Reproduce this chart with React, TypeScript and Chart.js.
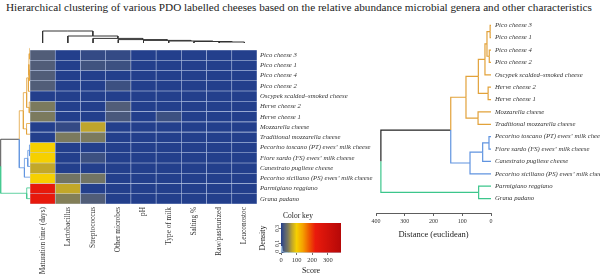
import React, { useEffect, useRef } from "react";
import { Chart, registerables } from "chart.js";

Chart.register(...registerables);

const SERIF = "'Liberation Serif', 'DejaVu Serif', serif";
const TITLE =
  "Hierarchical clustering of various PDO labelled cheeses based on the relative abundance microbial genera and other characteristics";

const rowLabels = [
  "Pico cheese 3",
  "Pico cheese 1",
  "Pico cheese 4",
  "Pico cheese 2",
  "Oscypek scalded–smoked cheese",
  "Herve cheese 2",
  "Herve cheese 1",
  "Mozzarella cheese",
  "Traditional mozzarella cheese",
  "Pecorino toscano (PT) ewes’ milk cheese",
  "Fiore sardo (FS) ewes’ milk cheese",
  "Canestrato pugliese cheese",
  "Pecorino siciliano (PS) ewes’ milk cheese",
  "Parmigiano reggiano",
  "Grana padano",
];

const colLabels = [
  "Maturation time (days)",
  "Lactobacillus",
  "Streptococcus",
  "Other microbes",
  "pH",
  "Type of milk",
  "Salting %",
  "Raw/pasteurized",
  "Leuconostoc",
];

// scores per column, one value per row (top to bottom)
const maturation = [22, 22, 22, 22, 0, 45, 45, 0, 0, 100, 100, 72, 100, 230, 230];
const lactobacillus = [0, 0, 0, 0, 0, 0, 0, 8, 45, 0, 0, 0, 40, 72, 48];
const streptococcus = [8, 14, 0, 0, 0, 0, 0, 70, 45, 0, 12, 0, 40, 0, 22];
const otherMicrobes = [8, 12, 0, 12, 0, 22, 18, 0, 0, 0, 0, 0, 0, 0, 0];
const pH = [0, 0, 0, 0, 0, 0, 0, 0, 0, 0, 0, 0, 0, 0, 0];
const typeOfMilk = [0, 0, 0, 0, 0, 0, 12, 0, 0, 0, 0, 0, 0, 0, 0];
const salting = [0, 0, 0, 0, 0, 0, 0, 0, 0, 0, 0, 0, 0, 0, 0];
const rawPasteurized = [0, 0, 0, 0, 0, 0, 0, 0, 0, 0, 0, 0, 0, 0, 0];
const leuconostoc = [0, 0, 0, 0, 0, 0, 0, 0, 0, 0, 0, 0, 0, 0, 0];
const columnScores = [
  maturation,
  lactobacillus,
  streptococcus,
  otherMicrobes,
  pH,
  typeOfMilk,
  salting,
  rawPasteurized,
  leuconostoc,
];

// colour key
const keyValues = [0, 20, 45, 70, 100, 140, 180, 220, 385];
const keyColors = ["#233f8c", "#4d5b7a", "#7b7a5e", "#bfa52c", "#f6d000", "#f5a000", "#ee5a00", "#ea1a0c", "#b50808"];
const keyTicks = [0, 100, 200, 300];
const densityTicks = [0, 0.1, 0.25];
const densityX = [0, 4, 8, 14, 25, 50, 100, 200, 300, 385];
const densityY = [0.005, 0.07, 0.02, 0.01, 0.006, 0.004, 0.003, 0.002, 0.001, 0.001];

// row dendrogram: [left, right, height]; negative = leaf (1-based position), positive = earlier merge
const rowMerges = [
  [-1, -2, 3],
  [-3, -4, 6],
  [1, 2, 14],
  [3, -5, 21],
  [-6, -7, 10],
  [4, 5, 44],
  [-8, -9, 45],
  [6, 7, 87],
  [-10, -11, 7],
  [9, -12, 29],
  [10, -13, 73],
  [8, 11, 140],
  [-14, -15, 43],
  [12, 13, 383],
];
const rowClusterNodes = [8, 11, 13];
const rowClusterColors = ["#e2a23a", "#6094e0", "#3cc68c"];
const distanceTicks = [0, 100, 200, 300, 400];

// column dendrogram
const colMerges = [
  [-8, -9, 1],
  [-7, 1, 1.5],
  [-6, 2, 2],
  [-5, 3, 2.6],
  [-4, 4, 3.4],
  [-3, 5, 4.6],
  [-2, 6, 7],
  [-1, 7, 12],
];

function hexToRgb(h: string) {
  return [parseInt(h.slice(1, 3), 16), parseInt(h.slice(3, 5), 16), parseInt(h.slice(5, 7), 16)];
}
function colorFor(v: number) {
  let i = 0;
  while (i < keyValues.length - 2 && v > keyValues[i + 1]) i++;
  const t = Math.max(0, Math.min(1, (v - keyValues[i]) / (keyValues[i + 1] - keyValues[i])));
  const a = hexToRgb(keyColors[i]);
  const b = hexToRgb(keyColors[i + 1]);
  const c = a.map((x, k) => Math.round(x + (b[k] - x) * t));
  return `rgb(${c[0]},${c[1]},${c[2]})`;
}

type Seg = { pts: { p: number; h: number }[]; color: string };
function dendrogram(merges: number[][], clusterNodes: number[], clusterColors: string[], base: string): Seg[] {
  const pos: Record<number, number> = {};
  const hgt: Record<number, number> = {};
  const P = (r: number) => (r < 0 ? -r - 0.5 : pos[r]);
  const H = (r: number) => (r < 0 ? 0 : hgt[r]);
  merges.forEach(([a, b, h], k) => {
    pos[k + 1] = (P(a) + P(b)) / 2;
    hgt[k + 1] = h;
  });
  const colorOf: Record<number, string> = {};
  const paint = (r: number, c: string) => {
    const idx = r > 0 ? clusterNodes.indexOf(r) : -1;
    const col = idx >= 0 ? clusterColors[idx] : c;
    colorOf[r] = col;
    if (r > 0) {
      paint(merges[r - 1][0], col);
      paint(merges[r - 1][1], col);
    }
  };
  paint(merges.length, base);
  const segs: Seg[] = [];
  merges.forEach(([a, b], k) => {
    const n = k + 1;
    [a, b].forEach((c) => {
      segs.push({
        pts: [
          { p: pos[n], h: hgt[n] },
          { p: P(c), h: hgt[n] },
          { p: P(c), h: H(c) },
        ],
        color: colorOf[c],
      });
    });
  });
  return segs;
}

const baseOpts: any = {
  responsive: false,
  animation: false,
  events: [],
  layout: { autoPadding: false, padding: 0 },
  plugins: { legend: { display: false }, tooltip: { enabled: false }, title: { display: false } },
};

function lineDatasets(segs: Seg[], horizontal: boolean, width: number) {
  return segs.map((s) => ({
    data: s.pts.map((q) => (horizontal ? { x: q.h, y: q.p } : { x: q.p, y: q.h })),
    showLine: true,
    borderColor: s.color,
    borderWidth: width,
    pointRadius: 0,
    fill: false,
    tension: 0,
    clip: false,
  }));
}

export default function App() {
  const heatRef = useRef<HTMLCanvasElement>(null);
  const leftRef = useRef<HTMLCanvasElement>(null);
  const topRef = useRef<HTMLCanvasElement>(null);
  const rightRef = useRef<HTMLCanvasElement>(null);
  const keyRef = useRef<HTMLCanvasElement>(null);
  const titleRef = useRef<HTMLDivElement>(null);

  useEffect(() => {
    const charts: Chart[] = [];
    if (titleRef.current) {
      const cv = document.createElement("canvas").getContext("2d")!;
      cv.font = `10px ${SERIF}`;
      const w = cv.measureText(TITLE).width;
      titleRef.current.style.fontSize = `${(10 * 586) / w}px`;
    }

    charts.push(
      new Chart(heatRef.current!, {
        type: "bar",
        data: {
          labels: colLabels,
          datasets: rowLabels.map((label, r) => ({
            label,
            data: colLabels.map(() => 1),
            backgroundColor: columnScores.map((col) => colorFor(col[r])),
            borderColor: "rgba(120,150,210,0.35)",
            borderWidth: 0.6,
            borderSkipped: false,
            barPercentage: 1,
            categoryPercentage: 1,
          })),
        },
        options: {
          ...baseOpts,
          scales: {
            x: {
              stacked: true,
              grid: { display: false, drawTicks: false },
              border: { display: false },
              ticks: {
                minRotation: 90,
                maxRotation: 90,
                autoSkip: false,
                padding: 3,
                color: "#333",
                font: { family: SERIF, size: 7.3 },
              },
              afterFit: (s: any) => {
                s.height = 72;
              },
            },
            y: {
              type: "linear",
              stacked: true,
              min: 0,
              max: 15,
              reverse: true,
              position: "right",
              grid: { display: false, drawTicks: false },
              border: { display: false },
              afterBuildTicks: (ax: any) => {
                ax.ticks = rowLabels.map((_, i) => ({ value: i + 0.5 }));
              },
              ticks: {
                autoSkip: false,
                padding: 3,
                color: "#333",
                font: { family: SERIF, size: 6.7, style: "italic" },
                callback: (_v: any, i: number) => rowLabels[i],
              },
              afterFit: (s: any) => {
                s.width = 123;
              },
            },
          },
        } as any,
      })
    );

    const rowSegs = dendrogram(rowMerges, rowClusterNodes, rowClusterColors, "#222");

    charts.push(
      new Chart(leftRef.current!, {
        type: "scatter",
        data: { datasets: lineDatasets(rowSegs, true, 0.8) as any },
        options: {
          ...baseOpts,
          scales: {
            x: { display: false, min: 0, max: 392, reverse: true },
            y: { display: false, min: 0, max: 15, reverse: true },
          },
        } as any,
      })
    );

    const colSegs = dendrogram(colMerges, [], [], "#333");
    charts.push(
      new Chart(topRef.current!, {
        type: "scatter",
        data: { datasets: lineDatasets(colSegs, false, 1) as any },
        options: {
          ...baseOpts,
          scales: {
            x: { display: false, min: 0, max: 9 },
            y: { display: false, min: 0, max: 14 },
          },
        } as any,
      })
    );

    charts.push(
      new Chart(rightRef.current!, {
        type: "scatter",
        data: { datasets: lineDatasets(rowSegs, true, 1.2) as any },
        options: {
          ...baseOpts,
          layout: { autoPadding: false, padding: { left: 16, top: 0, right: 0, bottom: 0 } },
          scales: {
            x: {
              min: 0,
              max: 400,
              reverse: true,
              afterBuildTicks: (ax: any) => {
                ax.ticks = distanceTicks.map((v) => ({ value: v }));
              },
              grid: { drawOnChartArea: false, drawTicks: true, tickLength: 3, color: "#333", lineWidth: 0.8 },
              border: { display: true, color: "#333", width: 0.8 },
              ticks: { padding: 2, color: "#333", font: { family: SERIF, size: 6 }, maxRotation: 0 },
              title: {
                display: true,
                text: "Distance (euclidean)",
                color: "#222",
                font: { family: SERIF, size: 8.5 },
                padding: { top: 0, bottom: 36 },
              },
              afterFit: (s: any) => {
                s.height = 63;
              },
            },
            y: {
              min: -0.9,
              max: 15.667,
              reverse: true,
              position: "right",
              grid: { display: false, drawTicks: false },
              border: { display: false },
              afterBuildTicks: (ax: any) => {
                ax.ticks = rowLabels.map((_, i) => ({ value: i + 0.5 }));
              },
              ticks: {
                autoSkip: false,
                padding: 4,
                color: "#333",
                font: { family: SERIF, size: 6.7, style: "italic" },
                callback: (_v: any, i: number) => rowLabels[i],
              },
              afterFit: (s: any) => {
                s.width = 109;
              },
            },
          },
        } as any,
      })
    );

    const gradientPlugin = {
      id: "keyGradient",
      beforeDatasetsDraw(chart: any) {
        const { ctx, chartArea: a, scales } = chart;
        const x = scales.x;
        const maxV = keyValues[keyValues.length - 1];
        const g = ctx.createLinearGradient(x.getPixelForValue(0), 0, x.getPixelForValue(maxV), 0);
        keyValues.forEach((v, i) => g.addColorStop(v / maxV, keyColors[i]));
        ctx.save();
        ctx.fillStyle = g;
        ctx.fillRect(a.left, a.top, a.width, a.height);
        ctx.restore();
      },
    };
    charts.push(
      new Chart(keyRef.current!, {
        type: "scatter",
        data: {
          datasets: [
            {
              data: densityX.map((x, i) => ({ x, y: densityY[i] })),
              showLine: true,
              borderColor: "rgba(190,225,245,0.9)",
              borderWidth: 0.8,
              pointRadius: 0,
              tension: 0,
            },
          ],
        },
        options: {
          ...baseOpts,
          layout: { autoPadding: false, padding: { left: 0, top: 0, right: 4, bottom: 0 } },
          plugins: {
            ...baseOpts.plugins,
            title: {
              display: true,
              text: "Color key",
              color: "#222",
              font: { family: SERIF, size: 7.5, weight: "normal" },
              padding: { top: 2, bottom: 2 },
            },
          },
          scales: {
            x: {
              min: 0,
              max: keyValues[keyValues.length - 1],
              afterBuildTicks: (ax: any) => {
                ax.ticks = keyTicks.map((v) => ({ value: v }));
              },
              grid: { drawOnChartArea: false, tickLength: 2, color: "#333", lineWidth: 0.7 },
              border: { display: false },
              ticks: { padding: 1, color: "#333", font: { family: SERIF, size: 6.5 }, maxRotation: 0 },
              title: {
                display: true,
                text: "Score",
                color: "#222",
                font: { family: SERIF, size: 8 },
                padding: { top: 0, bottom: 0 },
              },
              afterFit: (s: any) => {
                s.height = 23;
              },
            },
            y: {
              min: 0,
              max: 0.3,
              afterBuildTicks: (ax: any) => {
                ax.ticks = densityTicks.map((v) => ({ value: v }));
              },
              grid: { drawOnChartArea: false, tickLength: 2, color: "#333", lineWidth: 0.7 },
              border: { display: false },
              ticks: {
                minRotation: 90,
                maxRotation: 90,
                padding: 1,
                labelOffset: -3,
                color: "#333",
                font: { family: SERIF, size: 5.5 },
              },
              title: {
                display: true,
                text: "Density",
                color: "#222",
                font: { family: SERIF, size: 8 },
                padding: { top: 3, bottom: 0 },
              },
              afterFit: (s: any) => {
                s.width = 26;
              },
            },
          },
        } as any,
        plugins: [gradientPlugin],
      })
    );

    return () => charts.forEach((c) => c.destroy());
  }, []);

  const abs = (left: number, top: number, w: number, h: number): React.CSSProperties => ({
    position: "absolute",
    left,
    top,
    width: w,
    height: h,
  });

  return (
    <div style={{ position: "absolute", left: 0, top: 0, width: 600, height: 276, background: "#fff", overflow: "hidden" }}>
      <div
        ref={titleRef}
        style={{
          position: "absolute",
          left: 6,
          top: 1,
          whiteSpace: "nowrap",
          fontFamily: SERIF,
          fontSize: 10.5,
          color: "#222",
          lineHeight: "12px",
        }}
      >
        {TITLE}
      </div>
      <canvas ref={heatRef} width={350} height={233} style={abs(30, 43, 350, 233)} />
      <canvas ref={leftRef} width={30} height={161} style={abs(0, 43, 30, 161)} />
      <canvas ref={topRef} width={227} height={14} style={abs(30, 29, 227, 14)} />
      <canvas ref={keyRef} width={90} height={66} style={abs(255, 210, 90, 66)} />
      <canvas ref={rightRef} width={240} height={276} style={abs(360, 0, 240, 276)} />
    </div>
  );
}
